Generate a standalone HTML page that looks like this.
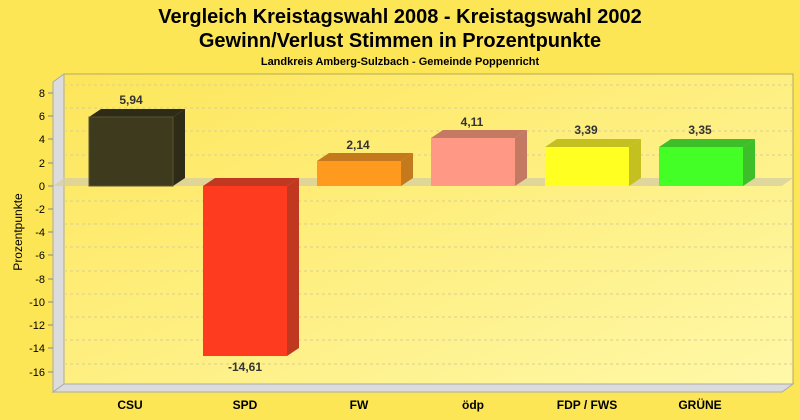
<!DOCTYPE html>
<html><head><meta charset="utf-8"><style>body{margin:0}svg{display:block}text{font-family:"Liberation Sans",sans-serif}</style></head><body>
<svg width="800" height="420" xmlns="http://www.w3.org/2000/svg">
<defs><linearGradient id="bg" x1="0" y1="0" x2="1" y2="1"><stop offset="0" stop-color="#fde65a"/><stop offset="1" stop-color="#fff8a8"/></linearGradient></defs>
<rect width="800" height="420" fill="#fde656"/>
<text x="400" y="23" font-size="20" font-weight="bold" text-anchor="middle">Vergleich Kreistagswahl 2008 - Kreistagswahl 2002</text>
<text x="400" y="47" font-size="20" font-weight="bold" text-anchor="middle">Gewinn/Verlust Stimmen in Prozentpunkte</text>
<text x="400" y="65" font-size="11" font-weight="bold" text-anchor="middle">Landkreis Amberg-Sulzbach - Gemeinde Poppenricht</text>
<rect x="64" y="74" width="729" height="310" fill="url(#bg)" stroke="#b8a860" stroke-width="1"/>
<polygon points="53,82 64,74 64,384 53,392" fill="#dcdcdc" stroke="#aaa"/>
<polygon points="53,392 64,384 793,384 782,392" fill="#dcdcdc" stroke="#aaa"/>
<g stroke="#d8cf90" stroke-dasharray="3,3" stroke-width="1">
<line x1="64" y1="85" x2="793" y2="85"/><line x1="64" y1="108" x2="793" y2="108"/><line x1="64" y1="131" x2="793" y2="131"/><line x1="64" y1="155" x2="793" y2="155"/>
<line x1="64" y1="201" x2="793" y2="201"/><line x1="64" y1="224" x2="793" y2="224"/><line x1="64" y1="247" x2="793" y2="247"/><line x1="64" y1="271" x2="793" y2="271"/><line x1="64" y1="294" x2="793" y2="294"/><line x1="64" y1="317" x2="793" y2="317"/><line x1="64" y1="340" x2="793" y2="340"/><line x1="64" y1="364" x2="793" y2="364"/>
</g>
<polygon points="53,186 64,178 793,178 782,186" fill="#d8d0a0" opacity="0.8"/>
<g font-size="11" text-anchor="end" fill="#000">
<text x="45" y="97">8</text><text x="45" y="120">6</text><text x="45" y="143">4</text><text x="45" y="167">2</text><text x="45" y="190">0</text>
<text x="45" y="213">-2</text><text x="45" y="236">-4</text><text x="45" y="259">-6</text><text x="45" y="283">-8</text><text x="45" y="306">-10</text><text x="45" y="329">-12</text><text x="45" y="352">-14</text><text x="45" y="376">-16</text>
</g>
<g stroke="#888"><line x1="48" y1="93" x2="53" y2="93"/><line x1="48" y1="116" x2="53" y2="116"/><line x1="48" y1="139" x2="53" y2="139"/><line x1="48" y1="163" x2="53" y2="163"/><line x1="48" y1="186" x2="53" y2="186"/><line x1="48" y1="209" x2="53" y2="209"/><line x1="48" y1="232" x2="53" y2="232"/><line x1="48" y1="255" x2="53" y2="255"/><line x1="48" y1="279" x2="53" y2="279"/><line x1="48" y1="302" x2="53" y2="302"/><line x1="48" y1="325" x2="53" y2="325"/><line x1="48" y1="348" x2="53" y2="348"/><line x1="48" y1="372" x2="53" y2="372"/></g>
<text transform="translate(22,232) rotate(-90)" font-size="12" text-anchor="middle">Prozentpunkte</text>
<g>
<polygon points="89,117 101,109 185,109 173,117" fill="#2e2b16"/><polygon points="173,117 185,109 185,178 173,186" fill="#2e2b16"/><rect x="89" y="117" width="84" height="69" fill="#3d3a1e" stroke="#5a5530"/>
<polygon points="203,186 215,178 299,178 287,186" fill="#c03820"/><polygon points="287,186 299,178 299,348 287,356" fill="#c03820"/><rect x="203" y="186" width="84" height="170" fill="#ff3b1f"/>
<polygon points="317,161 329,153 413,153 401,161" fill="#c47a1c"/><polygon points="401,161 413,153 413,178 401,186" fill="#c47a1c"/><rect x="317" y="161" width="84" height="25" fill="#ff9a1e"/>
<polygon points="431,138 443,130 527,130 515,138" fill="#c47a62"/><polygon points="515,138 527,130 527,178 515,186" fill="#c47a62"/><rect x="431" y="138" width="84" height="48" fill="#ff9985"/>
<polygon points="545,147 557,139 641,139 629,147" fill="#c4c020"/><polygon points="629,147 641,139 641,178 629,186" fill="#c4c020"/><rect x="545" y="147" width="84" height="39" fill="#ffff22"/>
<polygon points="659,147 671,139 755,139 743,147" fill="#3cbf28"/><polygon points="743,147 755,139 755,178 743,186" fill="#3cbf28"/><rect x="659" y="147" width="84" height="39" fill="#44ff26"/>
</g>
<g font-size="12" font-weight="bold" text-anchor="middle" fill="#333">
<text x="131" y="104">5,94</text><text x="245" y="371">-14,61</text><text x="358" y="149">2,14</text><text x="472" y="126">4,11</text><text x="586" y="134">3,39</text><text x="700" y="134">3,35</text>
</g>
<g font-size="12" font-weight="bold" text-anchor="middle">
<text x="130" y="409">CSU</text><text x="245" y="409">SPD</text><text x="359" y="409">FW</text><text x="473" y="409">ödp</text><text x="587" y="409">FDP / FWS</text><text x="700" y="409">GRÜNE</text>
</g>
</svg>
</body></html>
